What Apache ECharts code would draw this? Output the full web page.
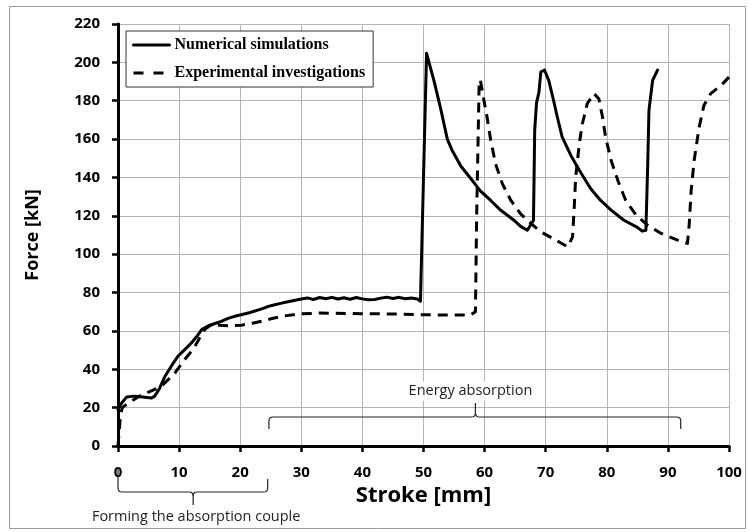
<!DOCTYPE html>
<html><head><meta charset="utf-8">
<script src="https://cdn.jsdelivr.net/npm/echarts@6/dist/echarts.min.js"></script>
<style>html,body{margin:0;padding:0;background:#fff}#c{width:751px;height:532px}</style>
</head><body><div id="c"></div>
<script>
// ---- data ----
const seriesNames = ['Numerical simulations', 'Experimental investigations'];
const xAxisName = 'Stroke [mm]';
const yAxisName = 'Force [kN]';
const annotationTexts = ['Energy absorption', 'Forming the absorption couple'];

const numStroke = [0,0.5,1.4,2.7,4,5.5,6,6.8,7.7,8.8,9.8,11,12,13,13.7,14.8,16,16.9,18,19.1,20,21.3,22,23,24,24.6,25.5,26.8,28,29,
  30,31,32,33,34,35,36,37,38,39,40,41,42,43,44,45,46,47,48,49,49.5,
  50.5,51.7,52.8,53.9,54.7,56.1,57.7,59.3,61,62.6,64.8,65.9,67,67.3,68,68.2,68.5,68.9,69.2,69.8,70.5,71.3,71.9,72.7,74.1,75.5,77.4,79,80.7,82.8,85,85.8,86.4,86.7,86.9,87.5,88.3];
const numForce = [19,22,25.5,26,25.5,25,26,30,36.4,42,46.8,50.5,53.7,57.5,60.7,62.7,64,65,66.5,67.6,68.3,69.3,70,71,72,72.8,73.5,74.5,75.3,76,
  76.6,77.2,76.4,77.4,76.8,77.5,76.6,77.3,76.5,77.4,76.7,76.2,76.4,77.1,77.6,76.9,77.5,76.8,77.2,76.6,75.5,
  204.7,190.6,176,160,154,146,139.6,133,128,123,117.7,114.5,112.5,111.6,117.7,164.6,179,184.5,195,196,190.6,180,171.5,161,151.6,143.8,134,128,123,117.7,114,112,112.5,147,175,190.6,196];

const expStroke = [0,0.2,0.4,0.7,1.5,2.5,3.5,4.9,6,7,7.7,8.5,9.3,10.1,10.9,11.8,12.6,13.4,14.2,15.3,16.5,18,20.2,22,23.5,25,26.8,29.5,33,40,46,50,55,57.7,
  58.5,58.7,59.1,59.3,59.9,60.4,61,61.8,62.9,64.3,65.9,67.3,69.2,71.3,73.6,74.4,74.7,74.9,75.5,76,76.8,77.9,78.7,79.3,79.8,80.7,81.8,83.1,84.8,86.7,88.9,91.6,93.2,93.5,93.8,94.3,95.1,95.9,97,98.7,100];
const expForce = [0,8,16,20,22,24,26,28,29.5,31,33,35.5,38,41.5,45,48.5,52,56.5,60.7,63.3,63,62.7,63,64,65,66.3,67.6,68.8,69.3,69,68.8,68.4,68.3,68.3,
  70,120,188,191,180,171.5,159.4,147,136.8,128,121,116.8,111.6,108,103.8,109,126.4,140,157.6,168,178.5,183.7,181,171.5,161,149,138.5,128,120.3,115,110.8,107.3,105.6,116,133,149,166,177.6,183.7,188,192.3];

// ---- chart ----
const chart = echarts.init(document.getElementById('c'), null, {renderer:'canvas'});
const tickFont = {fontFamily:'Open Sans', fontWeight:'bold', fontSize:15, color:'#000'};
const annFont = {fontFamily:'Open Sans', fontSize:14.5, fill:'#222'};

const option = {
  animation:false,
  backgroundColor:'#fff',
  grid:{left:118, right:22, top:24, bottom:86},
  legend:{
    orient:'vertical', left:126, top:31,
    padding:[5,8,5,6], itemGap:10, itemWidth:36, itemHeight:14,
    borderColor:'#333', borderWidth:1, backgroundColor:'#fff',
    itemStyle:{color:'rgba(0,0,0,0)', borderWidth:0, opacity:0},
    lineStyle:{width:3, color:'#000'},
    textStyle:{fontFamily:'Liberation Serif', fontWeight:'bold', fontSize:16, color:'#000', lineHeight:18},
    data:[{name:seriesNames[0]}, {name:seriesNames[1], lineStyle:{type:[10,10], width:3}}]
  },
  xAxis:{
    type:'value', min:0, max:100, interval:10,
    name:xAxisName, nameLocation:'middle', nameGap:38,
    nameTextStyle:{fontFamily:'Open Sans', fontWeight:'bold', fontSize:22, color:'#000'},
    axisLine:{onZero:false, lineStyle:{color:'#000', width:3}},
    axisTick:{show:true, length:6, lineStyle:{color:'#000', width:2.5}},
    axisLabel:Object.assign({margin:19}, tickFont),
    splitLine:{show:true, lineStyle:{color:'#b4b4b4', width:1}}
  },
  yAxis:{
    type:'value', min:0, max:220, interval:20,
    name:yAxisName, nameLocation:'middle', nameGap:76, nameRotate:90,
    nameTextStyle:{fontFamily:'Open Sans', fontWeight:'bold', fontSize:18, color:'#000'},
    axisLine:{show:true, onZero:false, lineStyle:{color:'#000', width:3}},
    axisTick:{show:true, length:6, lineStyle:{color:'#000', width:2.5}},
    axisLabel:Object.assign({margin:18}, tickFont),
    splitLine:{show:true, lineStyle:{color:'#b4b4b4', width:1}}
  },
  series:[
    {name:seriesNames[0], type:'line', symbol:'none', showSymbol:false, z:3,
     data:numStroke.map((x,i)=>[x, numForce[i]]),
     lineStyle:{color:'#000', width:3, join:'round', cap:'round'}, itemStyle:{color:'#000'}},
    {name:seriesNames[1], type:'line', symbol:'none', showSymbol:false, z:2,
     data:expStroke.map((x,i)=>[x, expForce[i]]),
     lineStyle:{color:'#000', width:3, type:[10,7], join:'round'}, itemStyle:{color:'#000'}}
  ]
};
chart.setOption(option);

// annotations (braces + labels), anchored through the axes
function px(x, y){ return chart.convertToPixel({gridIndex:0}, [x, y]); }
function corner(p0, c, p1){
  const pts = [];
  for (let t = 0; t <= 1.0001; t += 0.25){
    const a = (1-t)*(1-t), b = 2*(1-t)*t, d = t*t;
    pts.push([a*p0[0]+b*c[0]+d*p1[0], a*p0[1]+b*c[1]+d*p1[1]]);
  }
  return pts;
}
function brace(xL, xR, xC, y, yEndL, yEndR, yTip){
  const r = 4;
  const sE = Math.sign(yEndL - y), sT = Math.sign(yTip - y);
  const left = [[xL, yEndL]].concat(corner([xL, y + sE*r], [xL, y], [xL + r, y]))
    .concat(corner([xC - r, y], [xC, y], [xC, y + sT*r])).concat([[xC, yTip]]);
  const sR = Math.sign(yEndR - y);
  const right = [[xC, y + sT*r]].concat(corner([xC, y + sT*r], [xC, y], [xC + r, y]))
    .concat(corner([xR - r, y], [xR, y], [xR, y + sR*r])).concat([[xR, yEndR]]);
  return [left, right];
}
const eL = px(24.7, 0)[0], eR = px(92.1, 0)[0], eC = px(58.5, 0)[0];
const fL = px(0, 0)[0], fR = px(24.5, 0)[0], fC = px(12.3, 0)[0];
const eB = brace(eL, eR, eC, 417, 429, 429, 403);
const fB = brace(fL, fR, fC, 492, 468, 479, 505);
const lineSt = {fill:'none', stroke:'#222', lineWidth:1.2};
const braceEls = eB.concat(fB).map(pts => ({type:'polyline', silent:true, z:10, shape:{points:pts}, style:lineSt}));

chart.setOption({
  graphic:[
    {type:'rect', silent:true, z:-1, shape:{x:9.5, y:6.5, width:736, height:522}, style:{fill:'none', stroke:'#9a9a9a', lineWidth:1}}
  ].concat(braceEls).concat([
    {type:'text', silent:true, z:11, x:eC - 5, y:391,
     style:Object.assign({text:annotationTexts[0], align:'center', verticalAlign:'middle', backgroundColor:'#fff', padding:[2,5]}, annFont)},
    {type:'text', silent:true, z:11, x:fC + 3, y:517,
     style:Object.assign({text:annotationTexts[1], align:'center', verticalAlign:'middle'}, annFont)}
  ])
});
</script>
</body></html>
